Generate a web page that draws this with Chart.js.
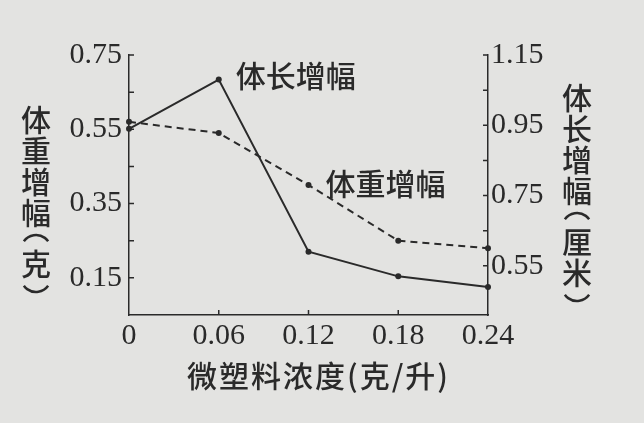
<!DOCTYPE html>
<html>
<head>
<meta charset="utf-8">
<script src="https://cdn.jsdelivr.net/npm/chart.js@4"></script>
<style>
  html, body { margin: 0; padding: 0; background: #e3e3e1; }
  #wrap { width: 644px; height: 423px; position: relative; }
</style>
</head>
<body>
<div id="wrap"><canvas id="chart"></canvas></div>
<script>
// data
const concentrations = [0, 0.06, 0.12, 0.18, 0.24];
const weightGain = [0.57, 0.54, 0.40, 0.25, 0.23];   // 体重增幅 (克), left axis, dashed
const lengthGain = [0.94, 1.08, 0.59, 0.52, 0.49];   // 体长增幅 (厘米), right axis, solid

const xTicks = [0, 0.06, 0.12, 0.18, 0.24];
const weightTicks = [0.05, 0.15, 0.25, 0.35, 0.45, 0.55, 0.65, 0.75];
const weightLabels = ['0.15', '0.35', '0.55', '0.75'];
const lengthTicks = [0.55, 0.65, 0.75, 0.85, 0.95, 1.05, 1.15];
const lengthLabels = ['0.55', '0.75', '0.95', '1.15'];

const ink = '#2a2a2a';
const numFont = { family: 'Liberation Serif', size: 30 };
const cjkFont = "500 30px 'Noto Sans CJK SC'";

function setTicks(values) {
    return function (scale) {
        scale.ticks = values.map(v => ({ value: v }));
    };
}

function labelIf(list) {
    return function (value) {
        let s = value.toFixed(2);
        return list.includes(s) ? s : '';
    };
}

// short tick marks pointing into the plot
const innerTicks = {
    id: 'innerTicks',
    afterDatasetsDraw(chart) {
        const ctx = chart.ctx;
        const area = chart.chartArea;
        ctx.save();
        ctx.strokeStyle = ink;
        ctx.lineWidth = 1.5;
        ctx.beginPath();
        chart.scales.y.ticks.forEach(t => {
            let y = chart.scales.y.getPixelForValue(t.value);
            if (y > area.bottom - 2) return;
            ctx.moveTo(area.left, y);
            ctx.lineTo(area.left + 5, y);
        });
        chart.scales.y1.ticks.forEach(t => {
            let y = chart.scales.y1.getPixelForValue(t.value);
            ctx.moveTo(area.right, y);
            ctx.lineTo(area.right - 5, y);
        });
        chart.scales.x.ticks.forEach(t => {
            let x = chart.scales.x.getPixelForValue(t.value);
            if (x < area.left + 2 || x > area.right - 2) return;
            ctx.moveTo(x, area.bottom);
            ctx.lineTo(x, area.bottom - 5);
        });
        ctx.stroke();
        ctx.restore();
    }
};

// stacked characters; brackets drawn as arcs like vertical typesetting
function drawVertical(ctx, chars, x, y) {
    chars.forEach(c => {
        if (c === '(' || c === ')') {
            let h = 20;
            ctx.beginPath();
            if (c === '(') {
                ctx.arc(x, y + h + 2, 15, Math.PI * 1.2, Math.PI * 1.8);
            } else {
                ctx.arc(x, y - 2, 15, Math.PI * 0.2, Math.PI * 0.8);
            }
            ctx.stroke();
            y += h;
        } else {
            let h = 31;
            ctx.fillText(c, x, y + h / 2);
            y += h;
        }
    });
}

const textLabels = {
    id: 'textLabels',
    afterDraw(chart) {
        const ctx = chart.ctx;
        const xs = chart.scales.x, ys = chart.scales.y, y1 = chart.scales.y1;
        ctx.save();
        ctx.fillStyle = ink;
        ctx.strokeStyle = ink;
        ctx.lineWidth = 2.5;
        ctx.font = cjkFont;
        ctx.textBaseline = 'middle';
        ctx.textAlign = 'left';
        ctx.fillText('体长增幅', xs.getPixelForValue(0.06) + 17, y1.getPixelForValue(lengthGain[1]) - 4);
        ctx.fillText('体重增幅', xs.getPixelForValue(0.12) + 17, ys.getPixelForValue(weightGain[2]) - 1);
        ctx.textAlign = 'center';
        drawVertical(ctx, ['体', '重', '增', '幅', '(', '克', ')'], 36, 104);
        drawVertical(ctx, ['体', '长', '增', '幅', '(', '厘', '米', ')'], 577, 82);
        ctx.letterSpacing = '2px';
        ctx.fillText('微塑料浓度(克/升)', (chart.chartArea.left + chart.chartArea.right) / 2 + 10, 376);
        ctx.restore();
    }
};

new Chart(document.getElementById('chart'), {
    type: 'line',
    data: {
        datasets: [
            {
                label: '体重增幅',
                data: concentrations.map((c, i) => ({ x: c, y: weightGain[i] })),
                yAxisID: 'y',
                borderColor: ink,
                backgroundColor: ink,
                borderWidth: 2,
                borderDash: [7, 5],
                pointRadius: 3,
                pointBorderWidth: 0,
                tension: 0,
                clip: false
            },
            {
                label: '体长增幅',
                data: concentrations.map((c, i) => ({ x: c, y: lengthGain[i] })),
                yAxisID: 'y1',
                borderColor: ink,
                backgroundColor: ink,
                borderWidth: 2,
                pointRadius: 3,
                pointBorderWidth: 0,
                tension: 0,
                clip: false
            }
        ]
    },
    options: {
        responsive: true,
        maintainAspectRatio: false,
        animation: false,
        layout: { padding: { top: 55, left: 0, right: 0, bottom: 0 } },
        plugins: {
            legend: { display: false },
            tooltip: { enabled: false }
        },
        scales: {
            x: {
                type: 'linear',
                min: 0,
                max: 0.24,
                afterBuildTicks: setTicks(xTicks),
                afterFit: (scale) => { scale.height = 108; },
                grid: { display: false, drawTicks: false },
                border: { display: true, color: ink, width: 1.5 },
                ticks: {
                    autoSkip: false,
                    maxRotation: 0,
                    padding: 3,
                    color: ink,
                    font: numFont,
                    callback: (v) => String(v)
                }
            },
            y: {
                type: 'linear',
                position: 'left',
                min: 0.05,
                max: 0.75,
                afterBuildTicks: setTicks(weightTicks),
                afterFit: (scale) => { scale.width = 129; },
                grid: { display: false, drawTicks: false },
                border: { display: true, color: ink, width: 1.5 },
                ticks: {
                    autoSkip: false,
                    padding: 7,
                    color: ink,
                    font: numFont,
                    callback: labelIf(weightLabels)
                }
            },
            y1: {
                type: 'linear',
                position: 'right',
                min: 0.41,
                max: 1.15,
                afterBuildTicks: setTicks(lengthTicks),
                afterFit: (scale) => { scale.width = 156; },
                grid: { display: false, drawTicks: false },
                border: { display: true, color: ink, width: 1.5 },
                ticks: {
                    autoSkip: false,
                    padding: 3,
                    color: ink,
                    font: numFont,
                    callback: labelIf(lengthLabels)
                }
            }
        }
    },
    plugins: [innerTicks, textLabels]
});
</script>
</body>
</html>
